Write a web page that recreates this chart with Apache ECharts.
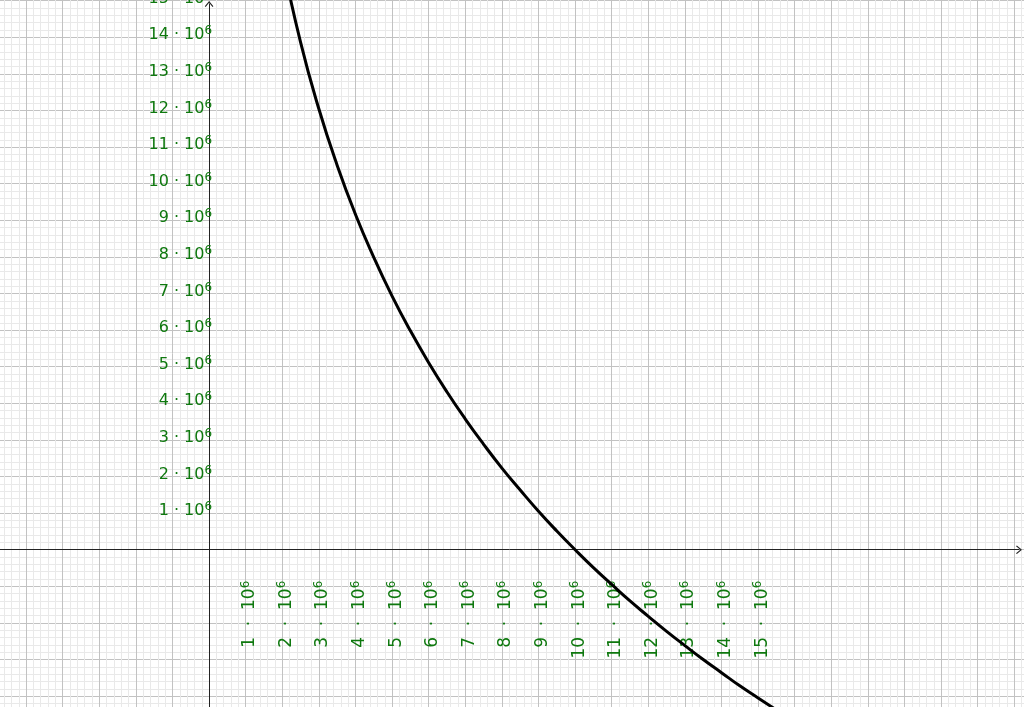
<!DOCTYPE html>
<html><head><meta charset="utf-8">
<script src="https://cdn.jsdelivr.net/npm/echarts@6/dist/echarts.min.js"></script>
<style>html,body{margin:0;padding:0;background:#fff}#c{width:1024px;height:707px}</style>
</head><body><div id="c"></div>
<script>
// values in units of 10^6
const UNIT = 1e6;
const curveX = [2.0, 2.5, 3.0, 3.5, 4.0, 4.5, 5.0, 5.5, 6.0, 6.5, 7.0, 7.5, 8.0, 8.5, 9.0, 9.5, 10, 10.5, 11, 11.5, 12, 12.5, 13, 13.5, 14, 14.5, 15, 15.5];
const curveY = [16.1, 13.86, 12.04, 10.50, 9.16, 7.99, 6.93, 5.98, 5.11, 4.31, 3.57, 2.88, 2.23, 1.63, 1.05, 0.51, 0, -0.49, -0.95, -1.40, -1.82, -2.23, -2.62, -3.00, -3.36, -3.72, -4.05, -4.38];
const xTickLabels = [1,2,3,4,5,6,7,8,9,10,11,12,13,14,15];
const yTickLabels = [1,2,3,4,5,6,7,8,9,10,11,12,13,14,15];

const GREEN = '#0e780e';
const FONT = 'DejaVu Sans';
const PX = 36.6, X0 = 209.1, Y0 = 549.7;

function richFor(size) {
  return {
    b: {fontSize: size, fontFamily: FONT, color: GREEN, lineHeight: 20},
    s: {fontSize: 12, fontFamily: FONT, color: GREEN, lineHeight: 12, verticalAlign: 'top'}
  };
}
function fmt(list, sep) {
  return function (v) {
    const n = Math.round(v / UNIT);
    if (Math.abs(v / UNIT - n) > 1e-6 || list.indexOf(n) < 0) return '';
    return '{b|' + n + sep + '10}{s|6}';
  };
}
const arrow = 'path://M5,0 L10,6 L9,7 L5,2 L1,7 L0,6 Z';

const chart = echarts.init(document.getElementById('c'));
chart.setOption({
  animation: false,
  backgroundColor: '#fff',
  grid: [
    {left: X0 - 6 * PX, top: Y0 - 16 * PX, width: 29 * PX, height: 21 * PX, outerBoundsMode: 'none'},
    {left: 0, top: 4, width: 1019, height: 703, outerBoundsMode: 'none'},
    {left: X0, top: Y0 - 16 * PX, width: 16 * PX, height: 16 * PX, outerBoundsMode: 'none'}
  ],
  xAxis: [{
    gridIndex: 0, type: 'value', min: -6 * UNIT, max: 23 * UNIT, interval: UNIT,
    axisLine: {show: false}, axisTick: {show: false}, axisLabel: {show: false},
    minorTick: {show: false, splitNumber: 5},
    splitLine: {show: true, lineStyle: {color: '#c2c2c2', width: 1}},
    minorSplitLine: {show: true, lineStyle: {color: '#e9e9e9', width: 1, type: 'solid'}}
  }, {
    gridIndex: 1, type: 'value', min: -X0 / PX * UNIT, max: (1019 - X0) / PX * UNIT,
    axisLine: {show: true, onZero: true, symbol: ['none', arrow], symbolSize: [9, 6], lineStyle: {color: '#222', width: 1}},
    axisTick: {show: false}, axisLabel: {show: false}, splitLine: {show: false}
  }, {
    gridIndex: 2, type: 'value', min: 0, max: 16 * UNIT, interval: UNIT,
    axisLine: {show: false, onZero: false}, axisTick: {show: false}, splitLine: {show: false},
    axisLabel: {show: true, rotate: 90, margin: 31, formatter: fmt(xTickLabels, '  ·  '), rich: richFor(17), padding: [8, 0, 0, 0]}
  }],
  yAxis: [{
    gridIndex: 0, type: 'value', min: -5 * UNIT, max: 16 * UNIT, interval: UNIT,
    axisLine: {show: false}, axisTick: {show: false}, axisLabel: {show: false},
    minorTick: {show: false, splitNumber: 5},
    splitLine: {show: true, lineStyle: {color: '#c2c2c2', width: 1}},
    minorSplitLine: {show: true, lineStyle: {color: '#e9e9e9', width: 1, type: 'solid'}}
  }, {
    gridIndex: 1, type: 'value', min: -(707 - Y0) / PX * UNIT, max: (Y0 - 4) / PX * UNIT,
    axisLine: {show: true, onZero: true, symbol: ['none', arrow], symbolSize: [9, 6], lineStyle: {color: '#222', width: 1}},
    axisTick: {show: false}, axisLabel: {show: false}, splitLine: {show: false}
  }, {
    gridIndex: 2, type: 'value', min: 0, max: 16 * UNIT, interval: UNIT,
    axisLine: {show: false, onZero: false}, axisTick: {show: false}, splitLine: {show: false},
    axisLabel: {show: true, margin: -3, formatter: fmt(yTickLabels, ' · '), rich: richFor(16), padding: [0, 0, 4, 0]}
  }],
  series: [{
    type: 'line', xAxisIndex: 0, yAxisIndex: 0,
    data: curveX.map((x, i) => [x * UNIT, curveY[i] * UNIT]),
    smooth: 0.5, showSymbol: false, symbol: 'none',
    lineStyle: {color: '#000', width: 3}, z: 5
  }]
});
</script></body></html>
